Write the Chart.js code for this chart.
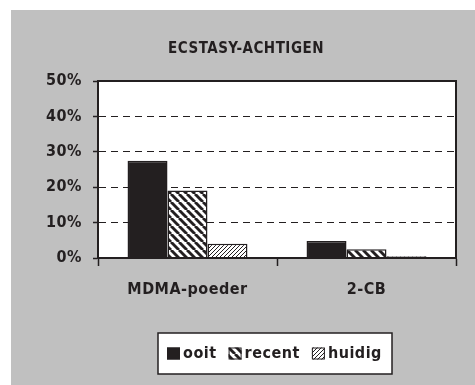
<!DOCTYPE html>
<html>
<head>
<meta charset="utf-8">
<script src="https://cdn.jsdelivr.net/npm/chart.js@4.4.0/dist/chart.umd.min.js"></script>
<style>
  html, body { margin: 0; padding: 0; background: #fff; }
  #grafiek { position: absolute; left: 11px; top: 10px; }
</style>
</head>
<body>
<canvas id="grafiek" width="464" height="375"></canvas>
<script>
const categorieen = ['MDMA-poeder', '2-CB'];
const reeksen = ['ooit', 'recent', 'huidig'];
const ooit = [27.5, 4.8];
const recent = [19.1, 2.5];
const huidig = [4.0, 0.5];
const yTicks = [0, 10, 20, 30, 40, 50];

const lettertype = "'Liberation Sans Narrow', 'DejaVu Sans Condensed', sans-serif";
const grijs = '#c0c0c0';
const zwart = '#231f20';

const canvas = document.getElementById('grafiek');
const ctx = canvas.getContext('2d');

// Arcering: diagonale strepen in een herhalende tegel
function maakArcering(periode, dikte, richting) {
    const c = document.createElement('canvas');
    c.width = periode;
    c.height = periode;
    const g = c.getContext('2d');
    g.fillStyle = '#fff';
    g.fillRect(0, 0, periode, periode);
    g.strokeStyle = zwart;
    g.lineWidth = dikte;
    for (let k = -1; k <= 1; k++) {
        g.beginPath();
        if (richting === 'links') {
            g.moveTo(k * periode, 0);
            g.lineTo(k * periode + periode, periode);
        } else {
            g.moveTo(k * periode, periode);
            g.lineTo(k * periode + periode, 0);
        }
        g.stroke();
    }
    return ctx.createPattern(c, 'repeat');
}

const vullingen = [zwart, maakArcering(8, 2.9, 'links'), maakArcering(4, 1, 'rechts')];

// Letterafstand en achtergrond
const spatiering = {
    id: 'spatiering',
    beforeLayout(chart) { chart.ctx.letterSpacing = '0.5px'; },
    beforeDraw(chart) {
        const c = chart.ctx;
        c.letterSpacing = '0.5px';
        const a = chart.chartArea;
        c.save();
        c.fillStyle = grijs;
        c.fillRect(0, 0, chart.width, chart.height);
        c.fillStyle = '#fff';
        c.fillRect(a.left, a.top, a.right - a.left, a.bottom - a.top);
        c.restore();
    }
};

// Kader rond het plotgebied en de legenda onderaan
const kaders = {
    id: 'kaders',
    afterDraw(chart) {
        const c = chart.ctx;
        const a = chart.chartArea;
        c.save();
        c.strokeStyle = zwart;
        c.lineWidth = 2;
        c.strokeRect(a.left, a.top, a.right - a.left, a.bottom - a.top);

        // legenda
        const lx = 147, ly = 323, lw = 234, lh = 41;
        c.fillStyle = '#fff';
        c.fillRect(lx, ly, lw, lh);
        c.lineWidth = 1.5;
        c.strokeRect(lx, ly, lw, lh);
        c.font = 'bold 16px ' + lettertype;
        c.textBaseline = 'middle';
        c.textAlign = 'left';
        let x = lx + 9;
        const midden = ly + lh / 2;
        chart.data.datasets.forEach(ds => {
            c.fillStyle = ds.backgroundColor;
            c.fillRect(x, midden - 6, 13, 12);
            c.lineWidth = 1;
            c.strokeRect(x + 0.5, midden - 5.5, 12, 11);
            x += 16;
            c.fillStyle = zwart;
            c.fillText(ds.label, x, midden);
            x += c.measureText(ds.label).width + 12;
        });
        c.restore();
    }
};

new Chart(canvas, {
    type: 'bar',
    data: {
        labels: categorieen,
        datasets: [
            { label: reeksen[0], data: ooit, backgroundColor: vullingen[0] },
            { label: reeksen[1], data: recent, backgroundColor: vullingen[1] },
            { label: reeksen[2], data: huidig, backgroundColor: vullingen[2] }
        ]
    },
    options: {
        responsive: false,
        animation: false,
        layout: { padding: { left: 25, right: 19, top: 0, bottom: 0 } },
        datasets: {
            bar: {
                categoryPercentage: 0.67,
                barPercentage: 1,
                borderColor: zwart,
                borderWidth: 1.5
            }
        },
        plugins: {
            legend: { display: false },
            tooltip: { enabled: false },
            title: {
                display: true,
                text: 'ECSTASY-ACHTIGEN',
                color: zwart,
                font: { family: lettertype, size: 15, weight: 'bold' },
                padding: { top: 30, bottom: 23 }
            }
        },
        scales: {
            x: {
                afterFit(s) { s.height = 127; },
                grid: {
                    display: true,
                    drawOnChartArea: false,
                    drawTicks: true,
                    tickLength: 8,
                    offset: true,
                    color: zwart,
                    tickWidth: 1.5
                },
                border: { display: true, color: zwart, width: 2 },
                ticks: {
                    color: zwart,
                    padding: 14,
                    font: { family: lettertype, size: 16, weight: 'bold' }
                }
            },
            y: {
                min: yTicks[0],
                max: yTicks[yTicks.length - 1],
                afterFit(s) { s.width = 62; },
                afterBuildTicks(s) { s.ticks = yTicks.map(v => ({ value: v })); },
                grid: {
                    color: zwart,
                    lineWidth: 1,
                    tickLength: 5,
                    tickBorderDash: [],
                    tickWidth: 1.5
                },
                border: { display: true, color: zwart, width: 2, dash: [7, 5] },
                ticks: {
                    color: zwart,
                    padding: 11,
                    callback: v => v + '%',
                    font: { family: lettertype, size: 16, weight: 'bold' }
                }
            }
        }
    },
    plugins: [spatiering, kaders]
});
</script>
</body>
</html>
